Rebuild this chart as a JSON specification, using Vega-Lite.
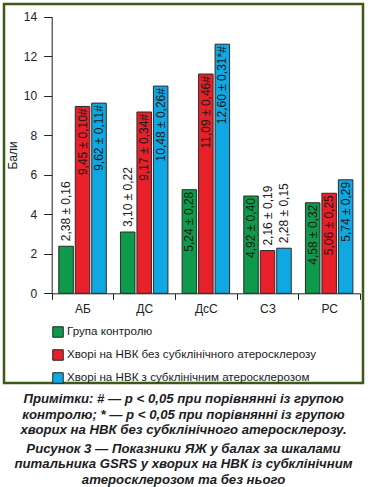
{
  "$schema": "https://vega.github.io/schema/vega-lite/v6.json",
  "width": 359,
  "height": 379,
  "autosize": "none",
  "padding": {"left": 4, "top": 4, "right": 5, "bottom": 104},
  "background": "white",
  "config": {
    "view": {"stroke": "#3b5a17", "strokeWidth": 2.5, "fill": "white"},
    "font": "Liberation Sans"
  },
  "title": {
    "text": ["Примітки: # — p < 0,05 при порівнянні із групою", "контролю; * — p < 0,05 при порівнянні із групою", "хворих на НВК без субклінічного атеросклерозу."],
    "subtitle": ["Рисунок 3 — Показники ЯЖ у балах за шкалами", "питальника GSRS у хворих на НВК із субклінічним", "атеросклерозом та без нього"],
    "orient": "bottom",
    "anchor": "middle",
    "font": "Liberation Sans",
    "fontSize": 13.2,
    "fontStyle": "italic",
    "fontWeight": "bold",
    "color": "#1c1c24",
    "lineHeight": 15.5,
    "subtitleFont": "Liberation Sans",
    "subtitleFontSize": 13.2,
    "subtitleFontStyle": "italic",
    "subtitleFontWeight": "bold",
    "subtitleColor": "#1c1c24",
    "subtitleLineHeight": 15.8,
    "subtitlePadding": 5.5,
    "offset": 7
  },
  "data": {
    "values": [
      {"cat": "АБ", "group": "Група контролю", "value": 2.38, "label": "2,38 ± 0,16"},
      {"cat": "АБ", "group": "Хворі на НВК без субклінічного атеросклерозу", "value": 9.45, "label": "9,45 ± 0,10#"},
      {"cat": "АБ", "group": "Хворі на НВК з субклінічним атеросклерозом", "value": 9.62, "label": "9,62 ± 0,11#"},
      {"cat": "ДС", "group": "Група контролю", "value": 3.10, "label": "3,10 ± 0,22"},
      {"cat": "ДС", "group": "Хворі на НВК без субклінічного атеросклерозу", "value": 9.17, "label": "9,17 ± 0,34#"},
      {"cat": "ДС", "group": "Хворі на НВК з субклінічним атеросклерозом", "value": 10.48, "label": "10,48 ± 0,26#"},
      {"cat": "ДсС", "group": "Група контролю", "value": 5.24, "label": "5,24 ± 0,28"},
      {"cat": "ДсС", "group": "Хворі на НВК без субклінічного атеросклерозу", "value": 11.09, "label": "11,09 ± 0,46#"},
      {"cat": "ДсС", "group": "Хворі на НВК з субклінічним атеросклерозом", "value": 12.60, "label": "12,60 ± 0,31*#"},
      {"cat": "СЗ", "group": "Група контролю", "value": 4.92, "label": "4,92 ± 0,40"},
      {"cat": "СЗ", "group": "Хворі на НВК без субклінічного атеросклерозу", "value": 2.16, "label": "2,16 ± 0,19"},
      {"cat": "СЗ", "group": "Хворі на НВК з субклінічним атеросклерозом", "value": 2.28, "label": "2,28 ± 0,15"},
      {"cat": "РС", "group": "Група контролю", "value": 4.58, "label": "4,58 ± 0,32"},
      {"cat": "РС", "group": "Хворі на НВК без субклінічного атеросклерозу", "value": 5.06, "label": "5,06 ± 0,25"},
      {"cat": "РС", "group": "Хворі на НВК з субклінічним атеросклерозом", "value": 5.74, "label": "5,74 ± 0,29"}
    ]
  },
  "encoding": {
    "x": {
      "field": "cat",
      "type": "nominal",
      "sort": ["АБ", "ДС", "ДсС", "СЗ", "РС"],
      "scale": {"range": [47.7, 356], "paddingInner": 0, "paddingOuter": 0},
      "axis": {
        "title": null,
        "orient": "bottom",
        "offset": -89.7,
        "tickBand": "extent",
        "tickSize": 6,
        "labelAngle": 0,
        "labelFontSize": 12,
        "labelPadding": 4,
        "labelColor": "#222",
        "domainColor": "#222",
        "tickColor": "#222"
      }
    },
    "xOffset": {
      "field": "group",
      "type": "nominal",
      "sort": ["Група контролю", "Хворі на НВК без субклінічного атеросклерозу", "Хворі на НВК з субклінічним атеросклерозом"],
      "scale": {"paddingInner": 0.12, "paddingOuter": 0.43}
    },
    "y": {
      "field": "value",
      "type": "quantitative",
      "scale": {"domain": [0, 14], "range": [289.3, 12.5], "nice": false},
      "axis": {
        "title": "Бали",
        "offset": -47.7,
        "values": [0, 2, 4, 6, 8, 10, 12, 14],
        "grid": false,
        "tickSize": 8,
        "labelPadding": 7,
        "labelFontSize": 12,
        "labelColor": "#222",
        "domainColor": "#222",
        "tickColor": "#222",
        "titleFontSize": 12,
        "titleFontWeight": "normal",
        "titleColor": "#222",
        "titlePadding": 4
      }
    }
  },
  "layer": [
    {
      "mark": {"type": "bar", "stroke": "#2a2a2a", "strokeWidth": 1},
      "encoding": {
        "color": {
          "field": "group",
          "type": "nominal",
          "sort": ["Група контролю", "Хворі на НВК без субклінічного атеросклерозу", "Хворі на НВК з субклінічним атеросклерозом"],
          "scale": {"range": ["#0e9a4a", "#e8202a", "#10a8e2"]},
          "legend": {
            "title": null,
            "orient": "none",
            "legendX": 48,
            "legendY": 322,
            "symbolType": "square",
            "symbolSize": 110,
            "symbolStrokeColor": "#222",
            "symbolStrokeWidth": 1,
            "symbolOpacity": 1,
            "labelFont": "Liberation Sans",
            "labelFontSize": 11.6,
            "labelColor": "#1a1a1a",
            "labelOffset": 3,
            "labelLimit": 320,
            "rowPadding": 7
          }
        }
      }
    },
    {
      "transform": [{"filter": "datum.value >= 4"}],
      "mark": {"type": "text", "angle": 270, "align": "right", "baseline": "middle", "dx": -2, "font": "Liberation Sans", "fontSize": 12, "color": "#1a1a1a"},
      "encoding": {"text": {"field": "label"}}
    },
    {
      "transform": [{"filter": "datum.value < 4"}],
      "mark": {"type": "text", "angle": 270, "align": "left", "baseline": "middle", "dx": 5, "font": "Liberation Sans", "fontSize": 12, "color": "#1a1a1a"},
      "encoding": {"text": {"field": "label"}}
    }
  ]
}
